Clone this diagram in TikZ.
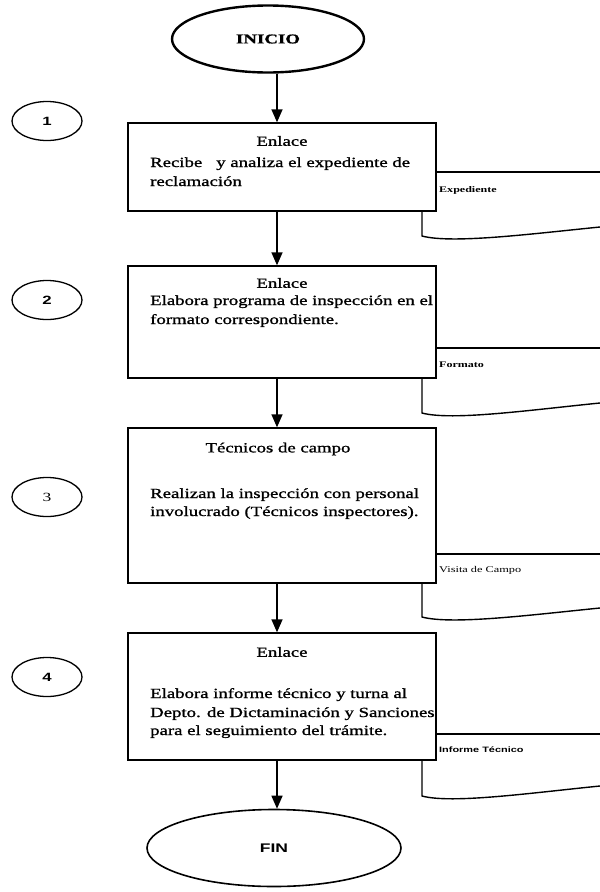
\documentclass[tikz,border=0pt]{standalone}
\usepackage{fontspec}
\setmainfont{Liberation Serif}
\newfontfamily\bxf[FakeStretch=1.34,FakeBold=1.2]{Liberation Serif}
\newfontfamily\lbf[FakeStretch=1.4]{Liberation Serif}
\newfontfamily\lbfb[FakeStretch=1.4,FakeBold=1]{Liberation Serif}
\newfontfamily\sff[FakeStretch=1.4]{Liberation Sans}
\usetikzlibrary{arrows.meta,shapes.geometric}
\tikzset{
  stepbox/.style={draw, line width=1.4pt, rectangle, inner sep=0pt},
  term/.style={draw, ellipse, inner sep=0pt},
  numc/.style={draw, ellipse, line width=1.3pt, minimum width=70pt, minimum height=39pt, inner sep=0pt, font=\sff\bfseries\fontsize{12}{14}\selectfont},
  arr/.style={line width=1.5pt, -{Triangle[width=11pt,length=13pt]}},
  doc/.style={line width=1.4pt},
  txt/.style={inner sep=0pt, font=\bxf\fontsize{14}{17}\selectfont},
  ttl/.style={txt, anchor=center},
  lft/.style={txt, anchor=base west},
  lab/.style={inner sep=0pt, anchor=west, font=\lbf\bfseries\fontsize{8.6}{10}\selectfont},
}
\begin{document}
\begin{tikzpicture}[x=1pt,y=-1pt]
\useasboundingbox (0,0) rectangle (600,892);
\fill[white] (0,0) rectangle (600,892);

% terminals
\node[term, line width=2.4pt, minimum width=192pt, minimum height=67pt] (inicio) at (268,39)
  {\lbfb\bfseries\fontsize{13.5}{15}\selectfont INICIO};
\node[term, line width=1.6pt, minimum width=254pt, minimum height=77pt] (fin) at (274,848)
  {\sff\bfseries\fontsize{12.5}{14}\selectfont FIN};

% step numbers
\node[numc] (n1) at (47,121) {1};
\node[numc] (n2) at (47,300) {2};
\node[numc, font=\lbf\fontsize{12.5}{14}\selectfont] (n3) at (47,497) {3};
\node[numc] (n4) at (47,677) {4};

% boxes
\node[stepbox, minimum width=308pt, minimum height=88pt] (b1) at (282,167) {};
\node[stepbox, minimum width=308pt, minimum height=112pt] (b2) at (282,322) {};
\node[stepbox, minimum width=308pt, minimum height=155pt] (b3) at (282,505.5) {};
\node[stepbox, minimum width=308pt, minimum height=127pt] (b4) at (282,696.5) {};

% box texts
\node[ttl] (t1a) at (282,141) {Enlace};
\node[lft] (t1b) at (150,167) {Recibe\hspace{14pt}y analiza el expediente de};
\node[lft] (t1c) at (150,186) {reclamación};

\node[ttl] (t2a) at (282,283) {Enlace};
\node[lft] (t2b) at (150,305) {Elabora programa de inspección en el};
\node[lft] (t2c) at (150,324) {formato correspondiente.};

\node[ttl] (t3a) at (278,449) {Técnicos de campo};
\node[lft] (t3b) at (150,498) {Realizan la inspección con personal};
\node[lft] (t3c) at (150,516) {involucrado (Técnicos inspectores).};

\node[ttl] (t4a) at (282,652) {Enlace};
\node[lft] (t4b) at (150,698) {Elabora informe técnico y turna al};
\node[lft] (t4c) at (150,717) {Depto. de Dictaminación y Sanciones};
\node[lft] (t4d) at (150,735) {para el seguimiento del trámite.};

% flow arrows
\coordinate (ax) at (277,0);
\draw[arr] (inicio.south -| ax) -- (b1.north -| ax);
\draw[arr] (b1.south -| ax) -- (b2.north -| ax);
\draw[arr] (b2.south -| ax) -- (b3.north -| ax);
\draw[arr] (b3.south -| ax) -- (b4.north -| ax);
\draw[arr] (b4.south -| ax) -- (fin.north -| ax);

% documents
\coordinate (dx) at (422,0);
\coordinate (d1t) at (600,172);
\coordinate (d1b) at (422,236);
\coordinate (d1e) at (600,227);
\draw[doc] (b1.east |- d1t) -- (d1t);
\draw[doc] (b1.south -| dx) -- (d1b) .. controls (452,244) and (530,234) .. (d1e);
\node[lab] (l1) at (439,190) {Expediente};

\coordinate (d2t) at (600,348);
\coordinate (d2b) at (422,413);
\coordinate (d2e) at (600,403);
\draw[doc] (b2.east |- d2t) -- (d2t);
\draw[doc] (b2.south -| dx) -- (d2b) .. controls (452,421) and (530,410) .. (d2e);
\node[lab] (l2) at (439,365) {Formato};

\coordinate (d3t) at (600,554);
\coordinate (d3b) at (422,617);
\coordinate (d3e) at (600,608);
\draw[doc] (b3.east |- d3t) -- (d3t);
\draw[doc] (b3.south -| dx) -- (d3b) .. controls (452,625) and (530,615) .. (d3e);
\node[lab, font=\lbf\fontsize{8.8}{10}\selectfont] (l3) at (439,570) {Visita de Campo};

\coordinate (d4t) at (600,734);
\coordinate (d4b) at (422,796);
\coordinate (d4e) at (600,786);
\draw[doc] (b4.east |- d4t) -- (d4t);
\draw[doc] (b4.south -| dx) -- (d4b) .. controls (452,804) and (530,793) .. (d4e);
\node[lab, font=\sff\bfseries\fontsize{7.8}{9}\selectfont] (l4) at (439,750) {Informe Técnico};
\end{tikzpicture}
\end{document}
